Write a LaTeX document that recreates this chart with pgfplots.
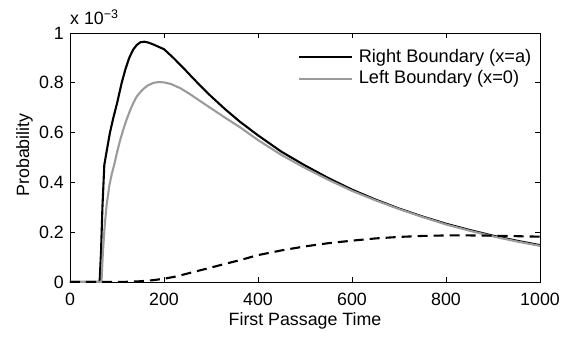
\documentclass[border=0pt]{standalone}
\usepackage{pgfplots}
\pgfplotsset{compat=1.18}
\usepackage{fontspec}
\setmainfont{Liberation Sans}
\definecolor{lgray}{RGB}{155,155,155}
\newcommand{\chf}{\fontsize{17.8}{21}\selectfont}
\newcommand{\lgf}{\fontsize{18.2}{22}\selectfont}
\begin{document}
\chf
\begin{tikzpicture}
\begin{axis}[name=ax,
  scale only axis, width=470pt, height=249pt,
  xmin=0, xmax=1000, ymin=0, ymax=1,
  xtick={0,200,400,600,800,1000},
  ytick={0,0.2,0.4,0.6,0.8,1},
  tick align=inside, major tick length=5pt,
  axis line style={line width=0.8pt},
  every tick/.style={black, line width=0.7pt},
  /pgf/number format/assume math mode=true,
  /pgf/number format/1000 sep={},
  yticklabel style={/pgf/number format/fixed, /pgf/number format/precision=1},
  ticklabel style={font=\chf},
  xticklabel style={anchor=base, yshift=-23pt},
  xlabel={First Passage Time},
  ylabel={Probability},
  xlabel style={at={(axis description cs:0.5,-0.1727)}, anchor=base, font=\chf},
  ylabel style={at={(axis description cs:-0.0872,0.51)}, anchor=base, rotate=0, font=\chf},
  legend cell align=left,
  legend image code/.code={\draw[#1] (0pt,0pt) -- (53pt,0pt);},
  legend style={draw=none, fill=none, at={(axis description cs:0.985,0.941)}, anchor=north east,
    font=\lgf, inner sep=0pt, row sep=2.5pt,
    nodes={inner sep=1.5pt},
    /tikz/every odd column/.append style={column sep=4pt}},
]
\addplot[black, line width=2.1pt, line join=round] coordinates {
(0,0) (63,0) (66,0.12) (69,0.30) (73,0.47) (78,0.525) (85,0.60) (92,0.658) (100,0.717)
(110,0.80) (118,0.855) (126,0.90) (134,0.932) (142,0.952) (150,0.963) (158,0.965)
(166,0.962) (176,0.955) (188,0.945) (200,0.935) (220,0.90) (240,0.862) (260,0.822)
(280,0.783) (300,0.746) (330,0.694) (362,0.643) (400,0.589) (450,0.523) (500,0.468)
(550,0.417) (600,0.371) (650,0.331) (700,0.295) (750,0.263) (800,0.234) (850,0.209)
(900,0.186) (950,0.166) (1000,0.148)};
\addlegendentry{Right Boundary (x=a)}
\addplot[lgray, line width=2.1pt, line join=round] coordinates {
(0,0) (67,0) (70,0.12) (74,0.23) (78,0.31) (84,0.39) (89,0.435) (94,0.47) (100,0.52)
(106,0.565) (113,0.61) (120,0.65) (128,0.69) (135,0.72) (142,0.745) (150,0.763)
(156,0.775) (166,0.79) (178,0.800) (190,0.803) (202,0.801) (215,0.795) (235,0.778)
(255,0.755) (275,0.729) (298,0.70) (330,0.66) (362,0.621) (400,0.570) (450,0.510)
(500,0.458) (550,0.410) (600,0.366) (650,0.328) (700,0.293) (750,0.261) (800,0.231)
(850,0.206) (900,0.183) (950,0.163) (1000,0.145)};
\addlegendentry{Left Boundary (x=0)}
\addplot[black, line width=2.1pt, dash pattern=on 10pt off 6pt, forget plot] coordinates {
(0,0) (100,0) (125,0.001) (150,0.003) (175,0.007) (200,0.013) (225,0.022) (250,0.034)
(277,0.047) (300,0.058) (330,0.073) (362,0.088) (400,0.108) (450,0.127) (500,0.143)
(550,0.156) (600,0.166) (650,0.175) (700,0.181) (750,0.185) (800,0.187) (850,0.187)
(900,0.186) (950,0.184) (1000,0.182)};
\end{axis}
\node[anchor=base west, inner sep=0pt] at ([yshift=8pt]ax.north west) {\fontsize{17.8}{21}\selectfont x 10\textsuperscript{−3}};
\path[draw=none] ([xshift=-70pt,yshift=-55pt]ax.south west) rectangle ([xshift=35pt,yshift=33pt]ax.north east);
\end{tikzpicture}
\end{document}
